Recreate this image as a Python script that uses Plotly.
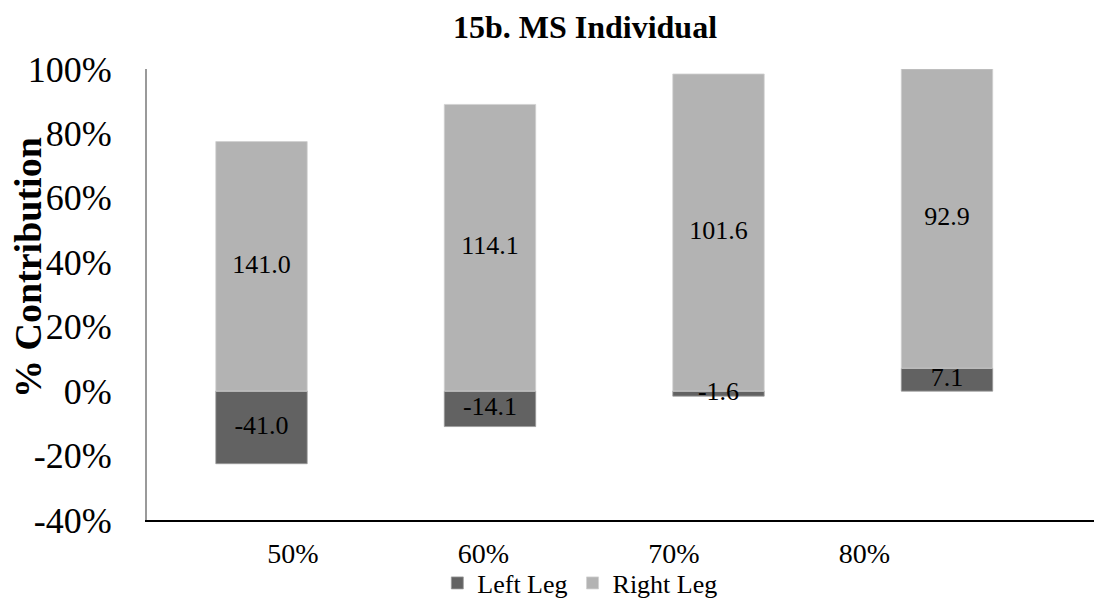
import plotly.graph_objects as go

categories = ["50%", "60%", "70%", "80%"]
left_leg = [-41.0, -14.1, -1.6, 7.1]
right_leg = [141.0, 114.1, 101.6, 92.9]
y_ticks = [-40, -20, 0, 20, 40, 60, 80, 100]

# 100% stacked (share of absolute total), as Excel draws it
totals = [abs(l) + abs(r) for l, r in zip(left_leg, right_leg)]
left_pct = [l / t * 100 for l, t in zip(left_leg, totals)]
right_pct = [r / t * 100 for r, t in zip(right_leg, totals)]
# label positions: middle of each segment
left_mid = [p / 2 for p in left_pct]
right_mid = [(lp if lp > 0 else 0) + rp / 2 for lp, rp in zip(left_pct, right_pct)]

FONT = "Liberation Serif"
W, H = 1094, 601
L, R, T, B = 147, 0, 69, 81

idx = list(range(len(categories)))

fig = go.Figure()
fig.add_trace(go.Bar(
    x=idx, y=left_pct, name="Left Leg",
    marker=dict(color="#626262", line=dict(color="#9a9a9a", width=0.8)),
    width=0.4, hoverinfo="skip",
))
fig.add_trace(go.Bar(
    x=idx, y=right_pct, name="Right Leg",
    marker=dict(color="#b3b3b3", line=dict(color="#d0d0d0", width=0.8)),
    width=0.4, hoverinfo="skip",
))
fig.add_trace(go.Scatter(
    x=idx + idx, y=left_mid + right_mid,
    text=[f"{v:.1f}" for v in left_leg + right_leg],
    mode="text", textposition="middle center",
    textfont=dict(family=FONT, size=26, color="black"),
    showlegend=False, hoverinfo="skip", cliponaxis=False,
))
# category tick labels axis
fig.add_trace(go.Scatter(x=idx, y=[None] * len(idx), xaxis="x2", showlegend=False,
                         hoverinfo="skip", mode="markers"))

pw = W - L - R
fig.update_layout(
    width=W, height=H,
    margin=dict(l=L, r=R, t=T, b=B, autoexpand=False),
    barmode="relative",
    plot_bgcolor="white", paper_bgcolor="white",
    font=dict(family=FONT, color="black"),
    title=dict(text="<b>15b. MS Individual</b>", x=585 / W, xanchor="center",
               y=1 - 27 / H, yanchor="middle",
               font=dict(family=FONT, size=32, color="black")),
    xaxis=dict(range=[(L - 261.5) / 228.5, (W - R - 261.5) / 228.5],
               showticklabels=False, showgrid=False, zeroline=False,
               showline=True, linecolor="black", linewidth=2, ticks=""),
    xaxis2=dict(overlaying="x", anchor="y", side="bottom",
                range=[(L - 293) / 190.5, (W - R - 293) / 190.5],
                tickmode="array", tickvals=idx, ticktext=categories,
                tickfont=dict(family=FONT, size=28, color="black"),
                showgrid=False, zeroline=False, showline=False, ticks="",
                ticklabelstandoff=14),
    yaxis=dict(range=[-40, 100], tickmode="array", tickvals=y_ticks,
               ticktext=[f"{v}%" for v in y_ticks],
               tickfont=dict(family=FONT, size=36, color="black"),
               showgrid=False, zeroline=False, showline=True,
               linecolor="#9a9a9a", linewidth=2, ticks="",
               ticklabelstandoff=26),
    legend=dict(orientation="h", x=500 / W, xanchor="center",
                y=(H - B - 583) / (H - T - B), yref="paper", yanchor="middle",
                font=dict(family=FONT, size=26, color="black"),
                itemwidth=30, tracegroupgap=0, bgcolor="rgba(0,0,0,0)"),
    showlegend=True,
)
fig.add_annotation(text="<b>% Contribution</b>", textangle=-90,
                   xref="paper", yref="paper",
                   x=(28 - L) / pw, y=(H - B - 268) / (H - T - B),
                   xanchor="center", yanchor="middle", showarrow=False,
                   font=dict(family=FONT, size=38, color="black"))

fig.write_html("out.html")
